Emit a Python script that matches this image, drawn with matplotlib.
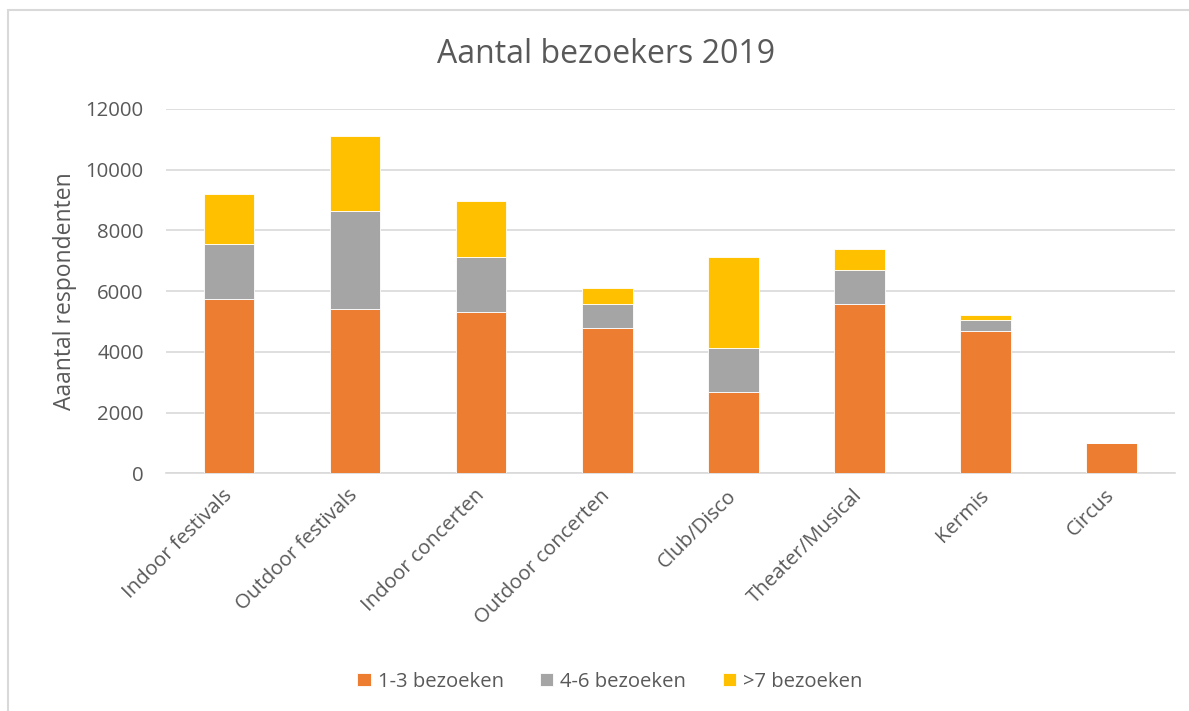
#!/usr/bin/env python3

import numpy as np
import matplotlib.pyplot as plt
from matplotlib.patches import Rectangle

plt.rcParams['font.family'] = ['Open Sans', 'DejaVu Sans']

# -------------------------------------------------
# DATA
# -------------------------------------------------

categories = ["Indoor festivals", "Outdoor festivals", "Indoor concerten",
              "Outdoor concerten", "Club/Disco", "Theater/Musical",
              "Kermis", "Circus"]

bezoek_1_3 = [5750, 5400, 5320, 4800, 2690, 5590, 4690, 990]
bezoek_4_6 = [1800, 3230, 1790, 770, 1440, 1110, 360, 0]
bezoek_7 = [1640, 2470, 1860, 530, 2990, 680, 150, 0]

series_labels = ["1-3 bezoeken", "4-6 bezoeken", ">7 bezoeken"]
colors = ["#ED7D31", "#A5A5A5", "#FFC000"]

title = "Aantal bezoekers 2019"
ylabel = "Aaantal respondenten"
yticks = [0, 2000, 4000, 6000, 8000, 10000, 12000]

text_color = "#595959"

# -------------------------------------------------
# PLOT
# -------------------------------------------------

fig = plt.figure(figsize=(11.89, 7.11), dpi=100)
ax = fig.add_axes([0.1396, 0.3343, 0.8484, 0.5124])

x = np.arange(len(categories))
bottom = np.zeros(len(categories))
handles = []
for vals, lab, col in zip([bezoek_1_3, bezoek_4_6, bezoek_7], series_labels, colors):
    b = ax.bar(x, vals, width=0.4, bottom=bottom, color=col, label=lab,
               edgecolor="white", linewidth=0.6, zorder=3)
    handles.append(b)
    bottom += np.array(vals)

ax.set_xlim(-0.5, len(categories) - 0.5)
ax.set_ylim(0, 12000)
ax.set_yticks(yticks)
ax.set_yticklabels([str(t) for t in yticks])
ax.set_xticks(x)
ax.set_xticklabels(categories, rotation=45, ha="right", va="center",
                   rotation_mode="anchor")

ax.grid(axis="y", color="#D9D9D9", linewidth=1.2, zorder=0)
for s in ["top", "right", "left"]:
    ax.spines[s].set_visible(False)
ax.spines["bottom"].set_color("#D9D9D9")
ax.spines["bottom"].set_linewidth(1.2)
ax.tick_params(axis="both", length=0, colors=text_color, labelsize=14.7)
ax.tick_params(axis="y", pad=16)
ax.tick_params(axis="x", pad=14)

ax.set_ylabel(ylabel, fontsize=16.5, color=text_color, labelpad=6)

fig.text(0.5097, 0.924, title, ha="center", va="center", fontsize=23,
         color=text_color)

fig.legend(handles=handles, labels=series_labels, loc="center",
           bbox_to_anchor=(0.513, 0.041), ncol=3, frameon=False,
           fontsize=14.6, labelcolor=text_color, handlelength=0.65,
           handleheight=0.65, handletextpad=0.35, columnspacing=1.8)

# outer chart border
fig.patches.append(Rectangle((8 / 1189, -0.1), 1.2, 1.1 - 10 / 711,
                             transform=fig.transFigure, fill=False,
                             edgecolor="#D9D9D9", linewidth=1.5))

fig.savefig("out.png", dpi=100)
